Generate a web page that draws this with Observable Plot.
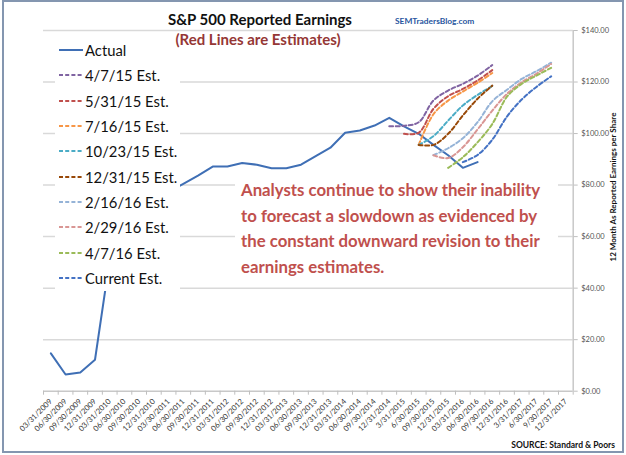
<!DOCTYPE html>
<html><head><meta charset="utf-8">
<script src="https://cdn.jsdelivr.net/npm/d3@7"></script>
<script src="https://cdn.jsdelivr.net/npm/@observablehq/plot@0.6"></script>
<style>
body{margin:0;background:#fff;font-family:Lato,sans-serif;}
#wrap{position:relative;width:626px;height:455px;overflow:hidden;background:#fff;}
#wrap svg{position:absolute;left:0;top:0;}
.t{position:absolute;white-space:nowrap;line-height:1;}
#frame{position:absolute;left:2px;top:0px;width:618px;height:449px;border:2px solid #8496b0;pointer-events:none;}
</style></head><body><div id="wrap"></div>
<script>
// ---- data ----
const quarters = ["03/31/2009","06/30/2009","09/30/2009","12/31/2009","03/31/2010","06/30/2010","09/30/2010","12/31/2010",
  "03/30/2011","06/30/2011","09/30/2011","12/31/2011","03/31/2012","06/30/2012","09/30/2012","12/31/2012",
  "03/31/2013","06/30/2013","09/30/2013","12/31/2013","03/31/2014","06/30/2014","09/30/2014","12/31/2014",
  "3/31/2015","6/30/2015","09/30/2015","12/31/2015","03/31/2016","06/30/2016","09/30/2016","12/31/2016",
  "3/31/2017","6/30/2017","9/30/2017","12/31/2017"];
const actual = [14.7, 6.5, 7.3, 12.2, 51.0, 60.0, 66.0, 72.0, 77.4, 80.5, 83.7, 87.2, 87.2, 88.6, 87.9, 86.5,
  86.5, 87.9, 91.2, 94.5, 100.3, 101.2, 103.1, 106.1, 102.8, 99.9, 95.6, 91.6, 86.7, 88.9];
const est_040715 = [102.8, 103.0, 104.4, 112.8, 116.7, 119.3, 122.5, 126.6];
const est_053115 = [99.9, 100.3, 109.6, 114.5, 117.3, 120.6, 124.6];
const est_071615 = [95.6, 107.5, 112.8, 116.3, 119.7, 123.5];
const est_102315 = [95.6, 99.0, 105.0, 110.9, 115.0, 118.5];
const est_123115 = [95.6, 95.6, 99.9, 107.0, 113.5, 118.6];
const est_021616 = [91.6, 94.3, 98.2, 104.4, 112.5, 117.0, 121.2, 124.2, 127.5];
const est_022916 = [91.6, 90.5, 94.7, 101.6, 108.9, 115.4, 119.9, 123.2, 127.0];
const est_040716 = [86.7, 90.8, 96.6, 103.7, 114.3, 119.3, 122.5, 125.5];
const est_current = [88.9, 91.7, 97.6, 106.6, 113.2, 118.1, 122.2];
const estStartQuarter = ["12/31/2014","3/31/2015","6/30/2015","6/30/2015","6/30/2015","09/30/2015","09/30/2015","12/31/2015","03/31/2016"];
const estNames = ["4/7/15 Est.","5/31/15 Est.","7/16/15 Est.","10/23/15 Est.","12/31/15 Est.","2/16/16 Est.","2/29/16 Est.","4/7/16 Est.","Current Est."];
const estColors = ["#8064a2","#c0504d","#f79646","#4bacc6","#984807","#95b3d7","#d99694","#9bbb59","#4472c4"];
const actualName = "Actual";
const actualColor = "#3f6fb5";
const yTicks = [0, 20, 40, 60, 80, 100, 120, 140];
const titleText = "S&P 500 Reported Earnings";
const subtitleText = "(Red Lines are Estimates)";
const blogText = "SEMTradersBlog.com";
const sourceText = "SOURCE: Standard & Poors";
const yLabelText = "12 Month As Reported Earnings per Share";
const noteLines = ["Analysts continue to show their inability","to forecast a slowdown as evidenced by","the constant downward revision to their","earnings estimates."];

// ---- build tables ----
const estimates = [est_040715, est_053115, est_071615, est_102315, est_123115, est_021616, est_022916, est_040716, est_current];
const actualRows = actual.map((v, i) => ({i, v}));
const estRows = [];
estimates.forEach((arr, k) => {
  const s0 = quarters.indexOf(estStartQuarter[k]);
  arr.forEach((v, j) => estRows.push({s: estNames[k], i: s0 + j, v}));
});
const idx = quarters.map((d, i) => i);
const edges = d3.range(quarters.length + 1).map(i => i - 0.5);

const chart = Plot.plot({
  width: 626, height: 455,
  marginLeft: 43, marginRight: 53.3, marginTop: 30, marginBottom: 64.3,
  x: {type: "linear", domain: [-0.5, quarters.length - 0.5]},
  y: {domain: [0, 140]},
  color: {domain: estNames, range: estColors},
  style: {fontFamily: "Lato, sans-serif", background: "transparent", overflow: "visible"},
  marks: [
    Plot.gridY(yTicks.filter(d => d > 0), {stroke: "#d9d9d9", strokeOpacity: 1, strokeWidth: 1.5}),
    Plot.ruleY([0], {stroke: "#c8c8c8", strokeWidth: 1.5}),
    Plot.ruleX([quarters.length - 0.5], {stroke: "#c8c8c8", strokeWidth: 1.5}),
    Plot.axisX(edges, {tickSize: 4, tickFormat: () => "", stroke: "#bfbfbf", label: null}),
    Plot.axisX(idx, {tickSize: 0, tickPadding: 9, tickRotate: -45, tickFormat: i => quarters[i], fontSize: 7.6, fill: "#333", label: null}),
    Plot.axisY(yTicks, {anchor: "right", tickSize: 4, tickPadding: 4, tickFormat: d => "$" + d.toFixed(2), fontSize: 7.5, fill: "#555", stroke: "#bfbfbf", label: null}),
    Plot.line(actualRows, {x: "i", y: "v", stroke: actualColor, strokeWidth: 2}),
    Plot.line(estRows, {x: "i", y: "v", z: "s", stroke: "s", strokeWidth: 2, strokeDasharray: "4,2.5", curve: "catmull-rom"})
  ]
});
const wrap = document.getElementById("wrap");
wrap.appendChild(chart);

function addText(txt, css) {
  const d = document.createElement("div");
  d.className = "t";
  d.textContent = txt;
  Object.assign(d.style, css);
  wrap.appendChild(d);
  return d;
}
// legend box
const leg = document.createElement("div");
Object.assign(leg.style, {position: "absolute", left: "55px", top: "36px", width: "125px", height: "255px", background: "#fff"});
wrap.appendChild(leg);
const legNames = [actualName, ...estNames];
const legColors = [actualColor, ...estColors];
legNames.forEach((n, k) => {
  const cy = 50 + 25.35 * k - 36;
  const row = document.createElement("div");
  Object.assign(row.style, {position: "absolute", left: "0px", top: (cy - 10) + "px", height: "20px", width: "125px"});
  const dash = k === 0 ? "" : `stroke-dasharray="4,2.2"`;
  row.innerHTML = `<svg width="30" height="20" style="position:absolute;left:4px;top:0"><line x1="0" x2="24" y1="10" y2="10" stroke="${legColors[k]}" stroke-width="2" ${dash}/></svg>`
    + `<div class="t" style="left:30px;top:2px;font-size:14.8px;color:#111;line-height:16px">${n}</div>`;
  leg.appendChild(row);
});
// annotation box
const box = document.createElement("div");
Object.assign(box.style, {position: "absolute", left: "235px", top: "177px", width: "323px", height: "105px", background: "#fff"});
wrap.appendChild(box);
noteLines.forEach((l, k) => {
  addText(l, {left: "241px", top: (181 + 25.7 * k) + "px", fontSize: "16.8px", fontWeight: "700", color: "#c0504d", lineHeight: "18px"});
});
addText(titleText, {left: "260px", top: "12px", transform: "translateX(-50%)", fontSize: "15px", fontWeight: "700", color: "#111"});
addText(subtitleText, {left: "258px", top: "32px", transform: "translateX(-50%)", fontSize: "15px", fontWeight: "700", color: "#953735"});
addText(blogText, {left: "395px", top: "16.5px", fontSize: "8.4px", fontWeight: "700", color: "#2856a0"});
addText(sourceText, {right: "11px", top: "441px", fontSize: "8.5px", fontWeight: "700", color: "#111"});
addText(yLabelText, {left: "613px", top: "187px", transform: "translate(-50%,-50%) rotate(-90deg)", fontSize: "8px", fontWeight: "700", color: "#111"});
const fr = document.createElement("div"); fr.id = "frame"; wrap.appendChild(fr);
</script></body></html>
